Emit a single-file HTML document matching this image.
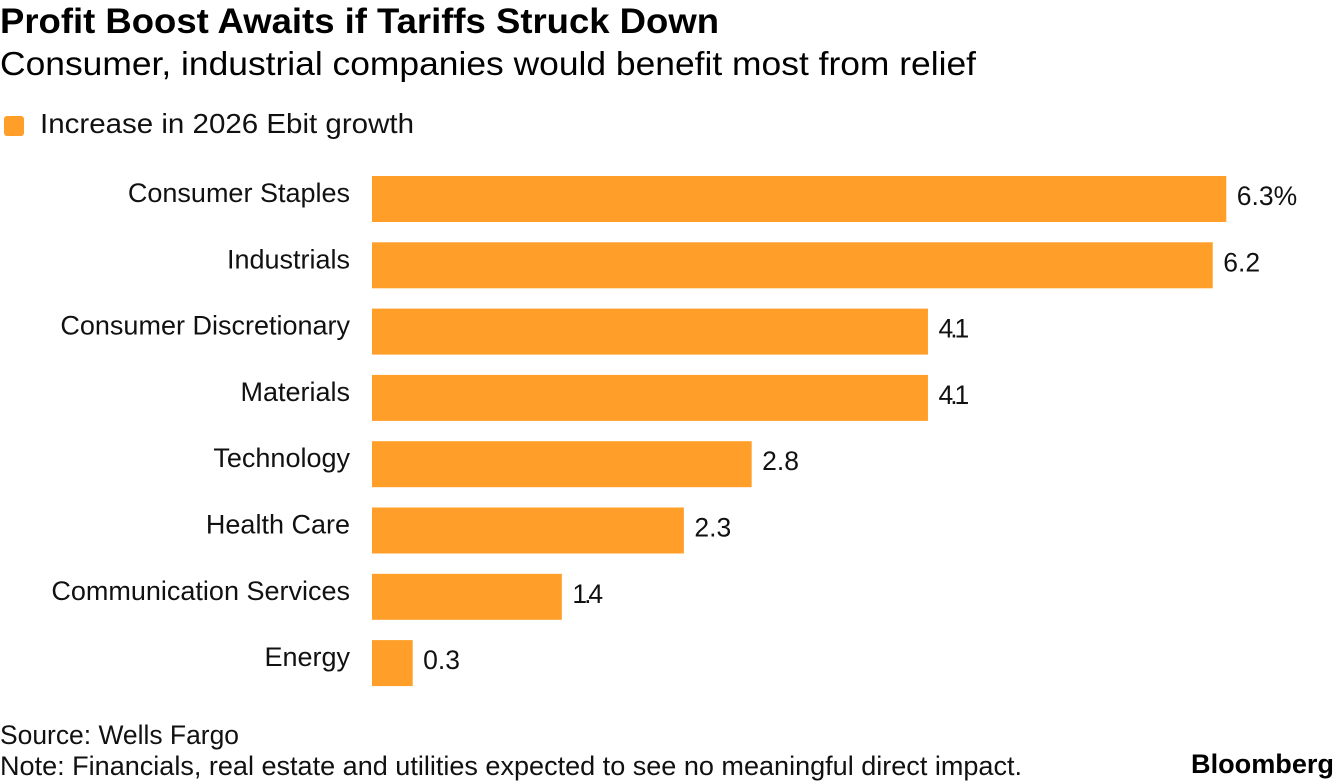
<!DOCTYPE html>
<html lang="en">
<head>
<meta charset="utf-8">
<title>Profit Boost Awaits if Tariffs Struck Down</title>
<style>
  html, body { margin: 0; padding: 0; background: #fff; }
  body { width: 1336px; height: 784px; overflow: hidden; }
  svg { display: block; font-family: "Liberation Sans", sans-serif; fill: #000; }
  .cat { font-size: 27px; text-anchor: end; fill: #111; }
  .val { font-size: 26.5px; fill: #111; }
</style>
</head>
<body>
<svg id="chart" width="1336" height="784" viewBox="0 0 1336 784" xmlns="http://www.w3.org/2000/svg">
  <text x="0" y="33" font-size="35" font-weight="700" textLength="719" lengthAdjust="spacingAndGlyphs">Profit Boost Awaits if Tariffs Struck Down</text>
  <text x="0" y="75" font-size="33.5" textLength="976" lengthAdjust="spacingAndGlyphs">Consumer, industrial companies would benefit most from relief</text>
  <rect x="4" y="116" width="20" height="20" rx="3" fill="#ff9f2a"></rect>
  <text x="40" y="133" font-size="28" fill="#111" textLength="374" lengthAdjust="spacingAndGlyphs">Increase in 2026 Ebit growth</text>
  <g id="bars"></g>
  <text x="0" y="744" font-size="26.5" fill="#111" textLength="239" lengthAdjust="spacingAndGlyphs">Source: Wells Fargo</text>
  <text x="0" y="775" font-size="26.5" fill="#111" textLength="1022" lengthAdjust="spacingAndGlyphs">Note: Financials, real estate and utilities expected to see no meaningful direct impact.</text>
  <text x="1191" y="773" font-size="27" font-weight="700" textLength="143" lengthAdjust="spacingAndGlyphs">Bloomberg</text>
</svg>
<script>
const categories = ["Consumer Staples", "Industrials", "Consumer Discretionary", "Materials", "Technology", "Health Care", "Communication Services", "Energy"];
const values = [6.3, 6.2, 4.1, 4.1, 2.8, 2.3, 1.4, 0.3];
const valueLabels = ["6.3%", "6.2", "4.1", "4.1", "2.8", "2.3", "1.4", "0.3"];

const NS = "http://www.w3.org/2000/svg";
const plotLeft = 372, unitWidth = 135.6, firstTop = 176, bandStep = 66.3, barHeight = 46;
const xScale = v => plotLeft + v * unitWidth;
const yScale = i => firstTop + i * bandStep;
const group = document.getElementById("bars");

categories.forEach((name, i) => {
  const top = yScale(i);

  const label = document.createElementNS(NS, "text");
  
  
  label.setAttribute("class", "cat");
  label.setAttribute("x", 350);
  label.setAttribute("y", top + 26);
  label.textContent = name;
  group.appendChild(label);

  const bar = document.createElementNS(NS, "rect");
  
  
  bar.setAttribute("x", xScale(0));
  bar.setAttribute("y", top);
  bar.setAttribute("width", xScale(values[i]) - xScale(0));
  bar.setAttribute("height", barHeight);
  bar.setAttribute("fill", "#ff9f2a");
  group.appendChild(bar);

  const val = document.createElementNS(NS, "text");
  
  
  val.setAttribute("class", "val");
  val.setAttribute("x", xScale(values[i]) + 10.5);
  val.setAttribute("y", top + 29);
  val.textContent = valueLabels[i];
  group.appendChild(val);
  // The reference typeface sets the digit "1" narrower than Liberation Sans does.
  const narrowOnes = valueLabels[i].split("1").length - 1;
  if (narrowOnes > 0) {
    val.setAttribute("textLength", val.getComputedTextLength() - 6 * narrowOnes);
  }
});
</script>
</body>
</html>
